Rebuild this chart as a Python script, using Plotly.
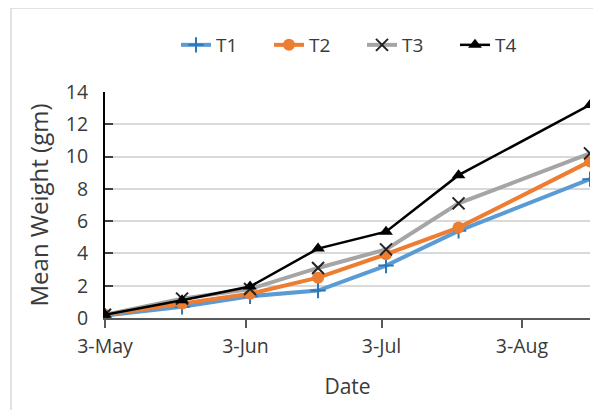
import plotly.graph_objects as go

dates = ["2023-05-03", "2023-05-20", "2023-06-04", "2023-06-19", "2023-07-04", "2023-07-20", "2023-08-18"]
t1 = [0.15, 0.7, 1.35, 1.7, 3.25, 5.4, 8.6]
t2 = [0.2, 0.9, 1.5, 2.5, 3.95, 5.6, 9.7]
t3 = [0.2, 1.2, 1.8, 3.1, 4.25, 7.1, 10.2]
t4 = [0.2, 1.1, 1.95, 4.3, 5.35, 8.85, 13.2]
tick_dates = ["2023-05-03", "2023-06-03", "2023-07-03", "2023-08-03"]
tick_labels = ["3-May", "3-Jun", "3-Jul", "3-Aug"]
y_ticks = [0, 2, 4, 6, 8, 10, 12, 14]

FONT = "Open Sans"
OFF = 8  # page body margin offset
W, H = 601 - OFF, 410 - OFF
L, R, T, B = 105 - OFF, 11, 92 - OFF, 92
pw, ph = W - L - R, H - T - B

def px(x):
    return (x - OFF - L) / pw

def py(y):
    return (H - B - (y - OFF)) / ph

fig = go.Figure()
fig.add_trace(go.Scatter(x=dates, y=t1, name="T1", mode="lines+markers",
                         line=dict(color="#5B9BD5", width=4),
                         marker=dict(symbol="cross-thin", size=11, line=dict(color="#2E75B6", width=2))))
fig.add_trace(go.Scatter(x=dates, y=t2, name="T2", mode="lines+markers",
                         line=dict(color="#ED7D31", width=4),
                         marker=dict(symbol="circle", size=12, color="#ED7D31")))
fig.add_trace(go.Scatter(x=dates, y=t3, name="T3", mode="lines+markers",
                         line=dict(color="#A5A5A5", width=4),
                         marker=dict(symbol="x-thin", size=12, line=dict(color="#222222", width=2))))
fig.add_trace(go.Scatter(x=dates, y=t4, name="T4", mode="lines+markers",
                         line=dict(color="#000000", width=2.5),
                         marker=dict(symbol="triangle-up", size=12, color="#000000")))

fig.update_layout(
    width=W, height=H,
    margin=dict(l=L, r=R, t=T, b=B),
    paper_bgcolor="white", plot_bgcolor="white",
    font=dict(family=FONT, size=16, color="#3A3A3A"),
    legend=dict(orientation="h", x=px(176), xanchor="left", y=py(45), yanchor="middle",
                font=dict(size=19, color="#3A3A3A"), entrywidth=48, entrywidthmode="pixels",
                tracegroupgap=0, bgcolor="rgba(0,0,0,0)"),
    xaxis=dict(type="date", range=[dates[0], dates[-1]], tickvals=tick_dates, ticktext=tick_labels,
               showgrid=False, showline=True, linecolor="#595959", linewidth=2,
               ticks="outside", ticklen=8, tickwidth=1.5, tickcolor="#595959",
               tickfont=dict(size=19.5, color="#3A3A3A"), ticklabelstandoff=2,
               title=dict(text="Date", font=dict(size=21, color="#3A3A3A"), standoff=21),
               zeroline=False),
    yaxis=dict(range=[0, 14], tickvals=y_ticks, showgrid=True, gridcolor="#D9D9D9", gridwidth=1.5,
               showline=True, linecolor="#000000", linewidth=2,
               ticks="inside", ticklen=8, tickwidth=1.5, tickcolor="#404040",
               tickfont=dict(size=19.5, color="#3A3A3A"), ticklabelstandoff=11,
               title=dict(text="Mean Weight (gm)", font=dict(size=24, color="#3A3A3A"), standoff=10),
               zeroline=False),
    shapes=[dict(type="rect", xref="paper", yref="paper",
                 x0=px(11), x1=px(640), y0=py(450), y1=py(8),
                 line=dict(color="#D9D9D9", width=1.5), fillcolor="rgba(0,0,0,0)", layer="below")],
)

fig.write_html("out.html")
